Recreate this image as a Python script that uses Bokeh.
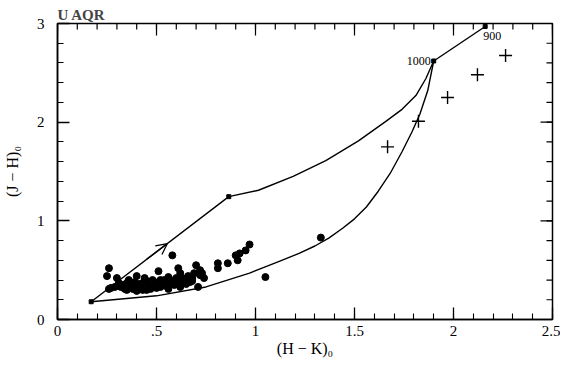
from bokeh.plotting import figure
from bokeh.models import LinearAxis, FixedTicker, Range1d, Arrow, OpenHead
from bokeh.core.properties import value
from bokeh.embed import file_html
from bokeh.resources import INLINE

# ---------------- data ----------------
title_text = "U AQR"
x_label = "(H − K)₀"
y_label = "(J − H)₀"
x_ticks = [0, 0.5, 1, 1.5, 2, 2.5]
x_tick_labels = ["0", ".5", "1", "1.5", "2", "2.5"]
x_minor = [round(0.1 * i, 1) for i in range(26)]
y_ticks = [0, 1, 2, 3]
y_tick_labels = ["0", "1", "2", "3"]
y_minor = [round(0.2 * i, 1) for i in range(16)]

# model track: upper branch (start -> 1000 K)
upper_x = [0.17, 0.865, 1.015, 1.19, 1.355, 1.52, 1.66, 1.74, 1.81, 1.86, 1.90]
upper_y = [0.18, 1.245, 1.31, 1.45, 1.61, 1.81, 2.01, 2.13, 2.27, 2.44, 2.62]
# model track: lower branch (start -> 1000 K)
lower_x = [0.17, 0.50, 0.75, 0.97, 1.12, 1.22, 1.30, 1.37, 1.44, 1.50, 1.56, 1.62,
           1.68, 1.74, 1.79, 1.83, 1.87, 1.90]
lower_y = [0.18, 0.24, 0.33, 0.47, 0.59, 0.67, 0.745, 0.825, 0.925, 1.02, 1.14, 1.30,
           1.48, 1.70, 1.90, 2.08, 2.32, 2.62]
# segment 1000 K -> 900 K
seg_x = [1.90, 2.16]
seg_y = [2.62, 2.97]
# small dots on the track
node_x = [0.17, 0.865, 1.90, 2.16]
node_y = [0.18, 1.245, 2.62, 2.97]
node_labels = ["", "", "1000", "900"]
# arrow on the upper branch
arrow_start = (0.45, 0.61)
arrow_end = (0.555, 0.77)

# observations: crosses
plus_x = [1.667, 1.823, 1.97, 2.121, 2.263]
plus_y = [1.75, 2.01, 2.25, 2.48, 2.675]

# observations: filled dots
dot_x = [0.26, 0.25, 0.26, 0.27, 0.30, 0.31, 0.33, 0.34, 0.36, 0.35, 0.40, 0.40, 0.41, 0.44,
         0.44, 0.45, 0.47, 0.48, 0.50, 0.51, 0.52, 0.53, 0.55, 0.56, 0.57, 0.58, 0.60, 0.61,
         0.62, 0.63, 0.62, 0.66, 0.68, 0.70, 0.69, 0.71, 0.73, 0.72, 0.81, 0.81, 0.86, 0.90,
         0.91, 0.92, 0.95, 0.97, 1.05, 1.33,
         0.32, 0.37, 0.38, 0.42, 0.43, 0.46, 0.47, 0.49, 0.50, 0.51, 0.52, 0.54, 0.55, 0.56,
         0.58, 0.59, 0.60, 0.64, 0.65, 0.67, 0.74, 0.72, 0.43, 0.39, 0.29,
         0.35, 0.45, 0.53, 0.57, 0.63, 0.68, 0.41, 0.48]
dot_y = [0.52, 0.44, 0.31, 0.32, 0.42, 0.37, 0.35, 0.31, 0.40, 0.30, 0.44, 0.29, 0.36, 0.38,
         0.42, 0.30, 0.36, 0.40, 0.35, 0.49, 0.40, 0.35, 0.38, 0.43, 0.36, 0.65, 0.42, 0.52,
         0.47, 0.37, 0.33, 0.44, 0.42, 0.55, 0.47, 0.33, 0.47, 0.50, 0.57, 0.52, 0.57, 0.65,
         0.60, 0.67, 0.70, 0.76, 0.43, 0.83,
         0.33, 0.34, 0.31, 0.33, 0.30, 0.34, 0.31, 0.38, 0.32, 0.37, 0.33, 0.40, 0.34, 0.31,
         0.39, 0.35, 0.37, 0.40, 0.36, 0.38, 0.42, 0.45, 0.37, 0.38, 0.33,
         0.37, 0.39, 0.38, 0.40, 0.42, 0.39, 0.32, 0.34]

# ---------------- figure ----------------
SERIF = "Liberation Serif"
FW, FH = 495, 296
X0, X1, Y0, Y1 = 0, 2.5, 0, 3
MAJ, MIN = 12, 6

p = figure(frame_width=FW, frame_height=FH, x_range=Range1d(X0, X1), y_range=Range1d(Y0, Y1),
           x_axis_type=None, y_axis_type=None, output_backend="svg",
           toolbar_location=None, min_border_left=57, min_border_right=8,
           min_border_top=23, min_border_bottom=42)
p.grid.visible = False
p.background_fill_color = "white"
p.border_fill_color = "white"
p.outline_line_color = "black"
p.outline_line_width = 1.5

p.title.text = title_text
p.title.align = "left"
p.title.text_font = SERIF
p.title.text_font_size = "15px"
p.title.text_font_style = "bold"
p.title.standoff = 2


def style(ax, ticks, minor, labels):
    ax.ticker = FixedTicker(ticks=ticks, minor_ticks=minor)
    ax.major_tick_in = MAJ
    ax.major_tick_out = 0
    ax.minor_tick_in = MIN
    ax.minor_tick_out = 0
    ax.major_tick_line_width = 1.3
    ax.minor_tick_line_width = 1.1
    ax.major_tick_line_color = "black"
    ax.minor_tick_line_color = "black"
    ax.axis_line_width = 1.5
    ax.axis_line_color = "black"
    ax.major_label_overrides = dict(zip(ticks, labels))
    ax.major_label_text_font = SERIF
    ax.major_label_text_font_size = "15px"
    ax.major_label_text_color = "black"
    ax.axis_label_text_font = SERIF
    ax.axis_label_text_font_size = "16px"
    ax.axis_label_text_font_style = "normal"
    ax.axis_label_text_color = "black"


bottom = LinearAxis()
style(bottom, x_ticks, x_minor, x_tick_labels)
bottom.major_label_standoff = 6
bottom.axis_label = x_label
bottom.axis_label_standoff = 1
p.add_layout(bottom, "below")

left = LinearAxis()
style(left, y_ticks, y_minor, y_tick_labels)
left.major_label_standoff = 13
left.axis_label = y_label
left.axis_label_standoff = 13
p.add_layout(left, "left")

# inward ticks on the top and right frame edges
ux = (X1 - X0) / FW  # data units per pixel in x
uy = (Y1 - Y0) / FH  # data units per pixel in y
xt = x_ticks + x_minor
xl = [MAJ * uy] * len(x_ticks) + [MIN * uy] * len(x_minor)
yt = y_ticks + y_minor
yl = [MAJ * ux] * len(y_ticks) + [MIN * ux] * len(y_minor)
p.segment(x0=xt, y0=[Y1] * len(xt), x1=xt, y1=[Y1 - l for l in xl],
          line_color="black", line_width=1.2)
p.segment(x0=[X1] * len(yt), y0=yt, x1=[X1 - l for l in yl], y1=yt,
          line_color="black", line_width=1.2)

# track
p.line(upper_x, upper_y, line_color="black", line_width=1.4)
p.line(lower_x, lower_y, line_color="black", line_width=1.4)
p.line(seg_x, seg_y, line_color="black", line_width=1.4)
p.scatter(node_x, node_y, size=4, marker="square", color="black")
p.add_layout(Arrow(end=OpenHead(size=11, line_width=1.3, line_color="black"),
                   x_start=arrow_start[0], y_start=arrow_start[1],
                   x_end=arrow_end[0], y_end=arrow_end[1],
                   line_color="black", line_width=1.4))

p.text([node_x[2]], [node_y[2]], text=[node_labels[2]], text_font=value(SERIF),
       text_font_size="12px", text_align="right", text_baseline="middle",
       x_offset=-3, y_offset=0, text_color="black")
p.text([node_x[3]], [node_y[3]], text=[node_labels[3]], text_font=value(SERIF),
       text_font_size="12px", text_align="left", text_baseline="top",
       x_offset=-2, y_offset=6, text_color="black")

# observations
p.scatter(dot_x, dot_y, size=7, marker="circle", color="black")
p.scatter(plus_x, plus_y, size=13, marker="cross", line_color="black", line_width=1.4)

open("out.html", "w").write(file_html(p, INLINE))
